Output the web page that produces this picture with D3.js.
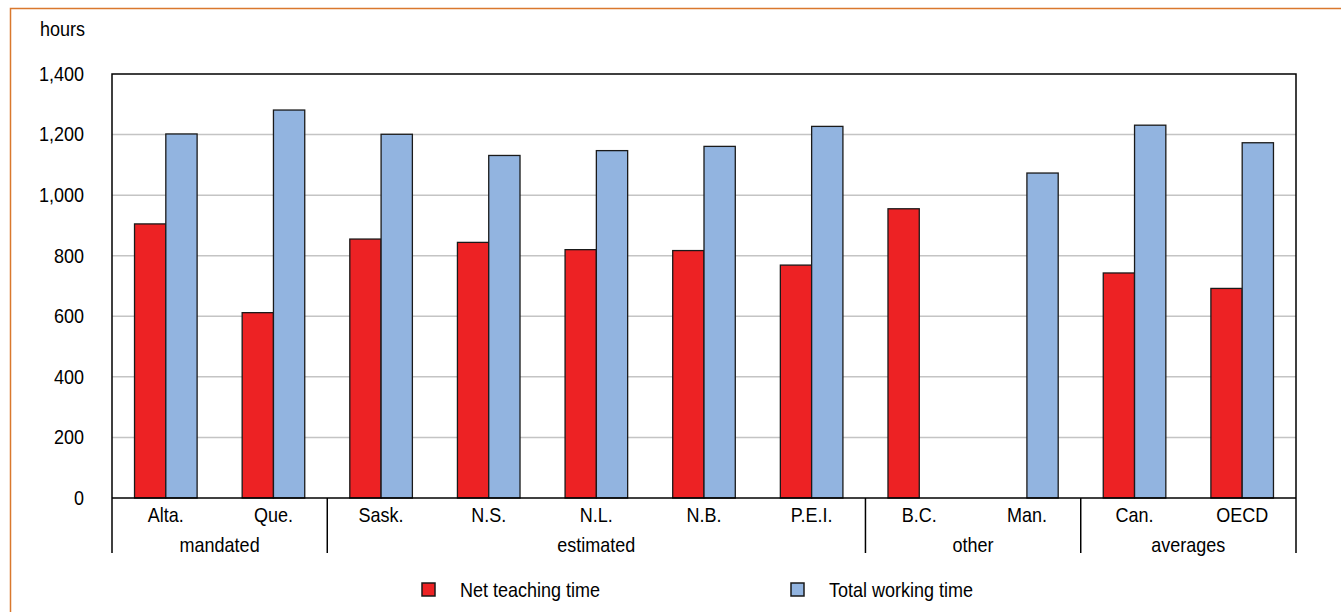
<!DOCTYPE html>
<html><head><meta charset="utf-8">
<script src="https://cdn.jsdelivr.net/npm/d3@7"></script>
<style>
body{margin:0;background:#fff;}
svg{display:block;}
text{font-family:"Liberation Sans Narrow","Arial Narrow","Liberation Sans",Arial,sans-serif;font-size:20px;fill:#000;
  transform-box:fill-box;transform:scaleX(0.9);}
text.s{transform-origin:left center;}
text.m{transform-origin:center center;}
text.e{transform-origin:right center;}
</style></head><body>
<svg id="c" width="1341" height="612"></svg>
<script>
const categories = ["Alta.","Que.","Sask.","N.S.","N.L.","N.B.","P.E.I.","B.C.","Man.","Can.","OECD"];
const groups = ["mandated","mandated","estimated","estimated","estimated","estimated","estimated","other","other","averages","averages"];
const netTeaching = [905, 612, 855, 844, 820, 817, 769, 955, null, 743, 692];
const totalWorking = [1202, 1281, 1201, 1131, 1147, 1161, 1227, null, 1073, 1231, 1173];
const seriesNames = ["Net teaching time","Total working time"];
const yTicks = [0,200,400,600,800,1000,1200,1400];
const colors = ["#ED2224","#92B4E0"];

const svg = d3.select("#c");
const L=112, R=1296, T=74, B=498;

// outer frame
svg.append("rect").attr("x",10.5).attr("y",8.5).attr("width",1340).attr("height",620)
  .attr("fill","none").attr("stroke","#D9782D").attr("stroke-width",1.5);

const x = d3.scaleBand().domain(categories).range([L,R]).paddingInner(0).paddingOuter(0);
const xs = d3.scaleBand().domain([0,1]).range([0,x.bandwidth()]).paddingInner(0).paddingOuter(0.72);
const y = d3.scaleLinear().domain([0,1400]).range([B,T]);

// gridlines
svg.append("g").selectAll("line").data(yTicks.filter(t=>t>0&&t<1400)).join("line")
  .attr("x1",L).attr("x2",R).attr("y1",d=>y(d)).attr("y2",d=>y(d))
  .attr("stroke","#C4C4C4").attr("stroke-width",1.5);

// y axis labels
const yAxis = d3.axisLeft(y).tickValues(yTicks).tickSize(0).tickPadding(28).tickFormat(d3.format(","));
const ga = svg.append("g").attr("transform",`translate(${L},0)`).call(yAxis);
ga.select(".domain").remove();
ga.selectAll("text").attr("class","e").attr("font-family",null);

svg.append("text").attr("class","s").attr("x",40).attr("y",36).text("hours");

// bars
const data = [];
categories.forEach((c,i)=>{
  [netTeaching[i], totalWorking[i]].forEach((v,j)=>{ if(v!=null) data.push({c,j,v}); });
});
svg.append("g").selectAll("rect").data(data).join("rect")
  .attr("x",d=>x(d.c)+xs(d.j)).attr("width",xs.bandwidth())
  .attr("y",d=>y(d.v)).attr("height",d=>B-y(d.v))
  .attr("fill",d=>colors[d.j]).attr("stroke","#1a1a1a").attr("stroke-width",1.3);

// plot frame
svg.append("path").attr("d",`M${L},${B}V${T}H${R}V${B}`).attr("fill","none").attr("stroke","#000").attr("stroke-width",1.5);
svg.append("line").attr("x1",L).attr("x2",R).attr("y1",B).attr("y2",B).attr("stroke","#000").attr("stroke-width",1.5);

// category labels
const xAxis = d3.axisBottom(x).tickSize(0).tickPadding(10);
const gx = svg.append("g").attr("transform",`translate(0,${B})`).call(xAxis);
gx.select(".domain").remove();
gx.selectAll("text").attr("class","m").attr("font-family",null);

// group labels & separators
const groupNames = Array.from(new Set(groups));
const seps = [L];
groupNames.forEach(g=>{
  const idx = groups.map((d,i)=>d===g?i:-1).filter(i=>i>=0);
  const x0 = x(categories[idx[0]]), x1 = x(categories[idx[idx.length-1]])+x.bandwidth();
  seps.push(x1);
  svg.append("text").attr("class","m").attr("x",(x0+x1)/2).attr("y",552).attr("text-anchor","middle").text(g);
});
svg.append("g").selectAll("line").data(seps).join("line")
  .attr("x1",d=>d).attr("x2",d=>d).attr("y1",B).attr("y2",553)
  .attr("stroke","#000").attr("stroke-width",1.5);

// legend
const lg = svg.append("g");
const lx = [422, 791];
seriesNames.forEach((s,i)=>{
  lg.append("rect").attr("x",lx[i]).attr("y",583).attr("width",13).attr("height",13)
    .attr("fill",colors[i]).attr("stroke","#1a1a1a").attr("stroke-width",1.5);
  lg.append("text").attr("class","s").attr("x",lx[i]+38).attr("y",597).text(s);
});
</script>
</body></html>
